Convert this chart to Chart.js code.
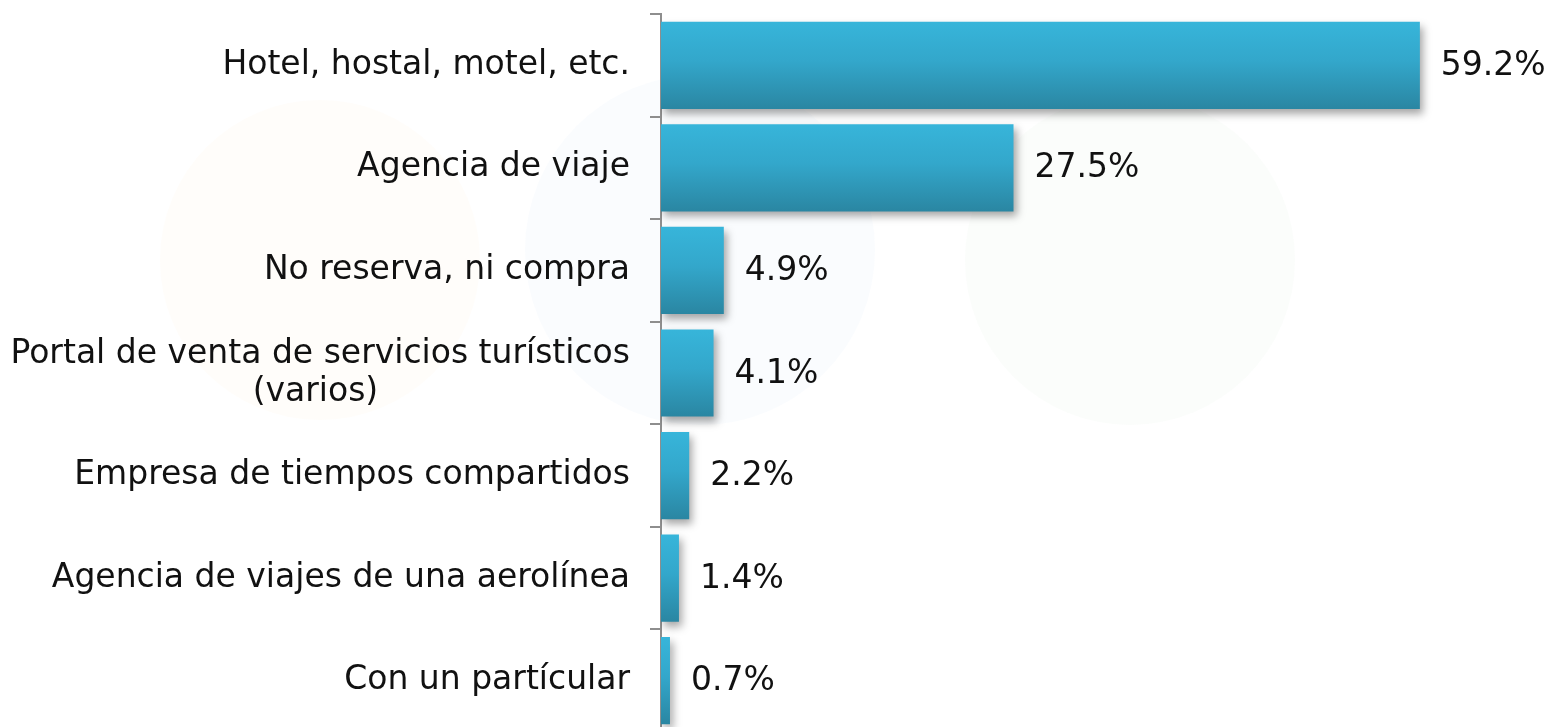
<!DOCTYPE html>
<html>
<head>
<meta charset="utf-8">
<script src="https://cdn.jsdelivr.net/npm/chart.js@4.4.1/dist/chart.umd.min.js"></script>
<style>
  html, body { margin: 0; padding: 0; background: #fff; overflow: hidden; }
  #wrap { position: relative; width: 1566px; height: 732px; }
</style>
</head>
<body>
<div id="wrap"><canvas id="chart"></canvas></div>
<script>
// categorias y valores (%)
var categories = [
  'Hotel, hostal, motel, etc.',
  'Agencia de viaje',
  'No reserva, ni compra',
  ['Portal de venta de servicios turísticos', '(varios)'],
  'Empresa de tiempos compartidos',
  'Agencia de viajes de una aerolínea',
  'Con un partícular'
];
var values = [59.2, 27.5, 4.9, 4.1, 2.2, 1.4, 0.7];

var FONT_FAMILY = "'DejaVu Sans', Verdana, sans-serif";
var FONT_SIZE = 33;

// centra las lineas cortas de una etiqueta de varias lineas
var measureCtx = document.createElement('canvas').getContext('2d');
function padLabel(lab) {
  if (!Array.isArray(lab)) return lab;
  measureCtx.font = FONT_SIZE + 'px ' + FONT_FAMILY;
  var widths = lab.map(function(l) { return measureCtx.measureText(l).width; });
  var maxW = Math.max.apply(null, widths);
  var sp = measureCtx.measureText(' ').width;
  return lab.map(function(l, i) {
    var n = Math.round((maxW - widths[i]) / 2 / sp);
    return l + ' '.repeat(n);
  });
}

function barGradient(c) {
  var chart = c.chart;
  var y = chart.scales.y;
  if (!chart.chartArea || !y || c.dataIndex === undefined) return '#30a2c4';
  var center = y.getPixelForValue(c.dataIndex);
  var half = (y.height / categories.length) * 0.85 / 2;
  var g = chart.ctx.createLinearGradient(0, center - half, 0, center + half);
  g.addColorStop(0, '#37b5da');
  g.addColorStop(0.45, '#33a7cb');
  g.addColorStop(1, '#2a86a2');
  return g;
}

// marca de agua muy tenue del fondo
var watermark = {
  id: 'watermark',
  beforeDraw: function(chart) {
    var ctx = chart.ctx;
    var blobs = [
      [320, 260, 160, 'rgba(255,196,120,0.035)'],
      [700, 250, 175, 'rgba(110,180,230,0.035)'],
      [1130, 260, 165, 'rgba(150,210,140,0.035)']
    ];
    ctx.save();
    blobs.forEach(function(b) {
      ctx.beginPath();
      ctx.arc(b[0], b[1], b[2], 0, Math.PI * 2);
      ctx.fillStyle = b[3];
      ctx.fill();
    });
    ctx.restore();
  }
};

// sombra de las barras
var barShadow = {
  id: 'barShadow',
  beforeDatasetsDraw: function(chart) {
    var ctx = chart.ctx;
    ctx.save();
    ctx.shadowColor = 'rgba(0,0,0,0.35)';
    ctx.shadowBlur = 8;
    ctx.shadowOffsetX = 3;
    ctx.shadowOffsetY = 5;
  },
  afterDatasetsDraw: function(chart) {
    chart.ctx.restore();
  }
};

// etiquetas de valor a la derecha de cada barra
var valueLabels = {
  id: 'valueLabels',
  afterDatasetsDraw: function(chart) {
    var ctx = chart.ctx;
    var meta = chart.getDatasetMeta(0);
    ctx.save();
    ctx.font = FONT_SIZE + 'px ' + FONT_FAMILY;
    ctx.fillStyle = '#111';
    ctx.textAlign = 'left';
    ctx.textBaseline = 'middle';
    meta.data.forEach(function(bar, i) {
      ctx.fillText(values[i].toFixed(1) + '%', bar.x + 21, bar.y + 1);
    });
    ctx.restore();
  }
};

new Chart(document.getElementById('chart'), {
  type: 'bar',
  data: {
    labels: categories,
    datasets: [{
      data: values,
      backgroundColor: barGradient,
      borderWidth: 0,
      barPercentage: 0.85,
      categoryPercentage: 1
    }]
  },
  options: {
    indexAxis: 'y',
    responsive: true,
    maintainAspectRatio: false,
    animation: false,
    layout: { padding: { top: 14, left: 0, right: 0, bottom: 0 } },
    plugins: {
      legend: { display: false },
      tooltip: { enabled: false }
    },
    scales: {
      x: {
        display: false,
        min: 0,
        max: 70.6
      },
      y: {
        afterFit: function(scale) {
          scale.width = 661;
          scale.paddingTop = 0;
          scale.paddingBottom = 0;
        },
        border: { display: true, color: '#8e8e8e', width: 2 },
        grid: {
          drawOnChartArea: false,
          offset: true,
          tickLength: 11,
          color: '#8e8e8e',
          lineWidth: 2
        },
        ticks: {
          padding: 20,
          color: '#111',
          font: { family: FONT_FAMILY, size: FONT_SIZE, lineHeight: 1.15 },
          callback: function(value) { return padLabel(categories[value]); }
        }
      }
    }
  },
  plugins: [watermark, barShadow, valueLabels]
});
</script>
</body>
</html>
